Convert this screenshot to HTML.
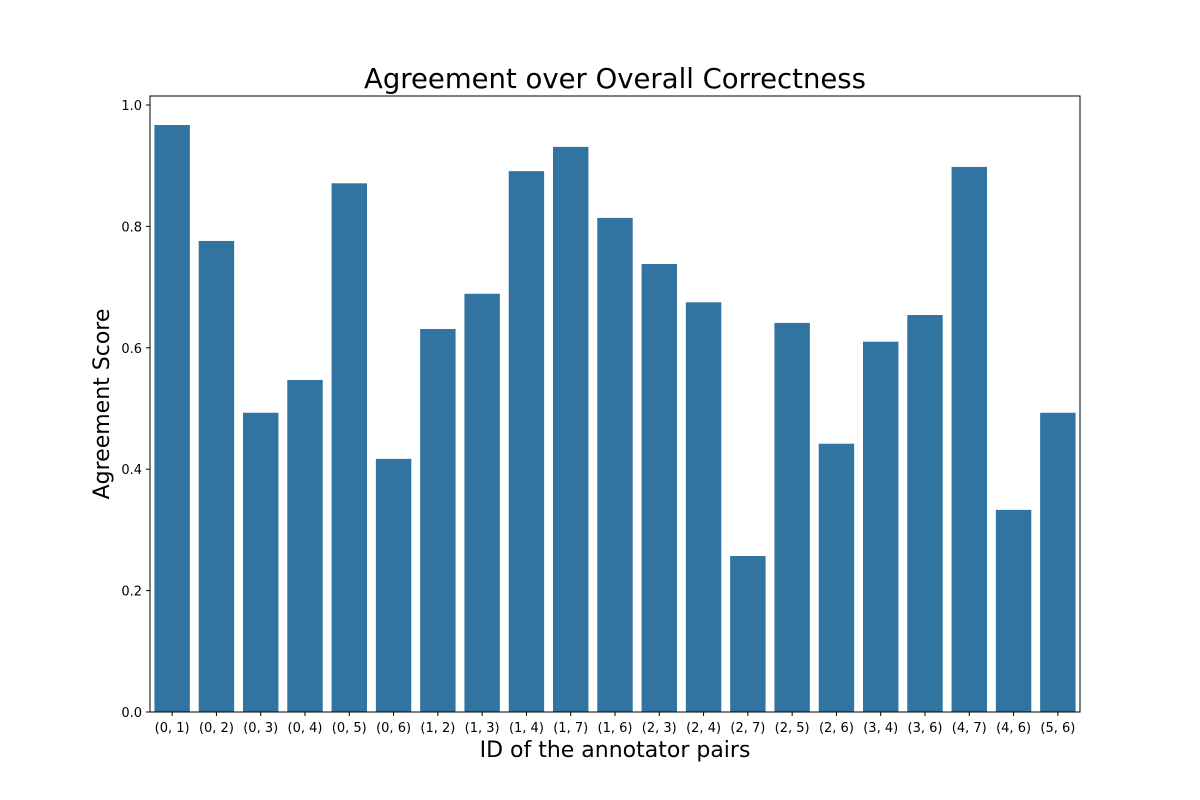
<!DOCTYPE html>
<html><head><meta charset="utf-8"><style>body{margin:0;background:#fff}svg{display:block;font-family:"DejaVu Sans","Liberation Sans",sans-serif}</style></head>
<body>
<svg id="chart" width="1200" height="800" xmlns="http://www.w3.org/2000/svg">
<text x="615" y="88" text-anchor="middle" font-size="27.5">Agreement over Overall Correctness</text>
<text transform="translate(109,404) rotate(-90)" text-anchor="middle" font-size="22">Agreement Score</text>
<text x="615" y="757" text-anchor="middle" font-size="22">ID of the annotator pairs</text>
<g id="bars"></g>
<g id="yticks"></g>
<g id="xticks"></g>
<rect x="150" y="96" width="930" height="616" fill="none" stroke="#000" stroke-width="1"/>
</svg>
<script>
const categories = ["(0, 1)","(0, 2)","(0, 3)","(0, 4)","(0, 5)","(0, 6)","(1, 2)","(1, 3)","(1, 4)","(1, 7)","(1, 6)","(2, 3)","(2, 4)","(2, 7)","(2, 5)","(2, 6)","(3, 4)","(3, 6)","(4, 7)","(4, 6)","(5, 6)"];
const values = [0.967,0.776,0.493,0.547,0.871,0.417,0.631,0.689,0.891,0.931,0.814,0.738,0.675,0.257,0.641,0.442,0.610,0.654,0.898,0.333,0.493];
const yTicks = [0,0.2,0.4,0.6,0.8,1.0];
const yTickLabels = ["0.0","0.2","0.4","0.6","0.8","1.0"];
const NS="http://www.w3.org/2000/svg";
const L=150,R=1080,B=712,PX=607;
const y=v=>B-v*PX;
const slot=(R-L)/categories.length;
const x=i=>L+slot*(i+0.5);
const bars=document.getElementById('bars'),xt=document.getElementById('xticks'),yt=document.getElementById('yticks');
function mk(t,a){const e=document.createElementNS(NS,t);for(const k in a)e.setAttribute(k,a[k]);return e;}
values.forEach((v,i)=>{
 const r=mk('rect',{x:x(i)-slot*0.4,y:y(v),width:slot*0.8,height:B-y(v),fill:'#3274a1'});
 
 
 bars.appendChild(r);
 const tk=mk('line',{x1:x(i),x2:x(i),y1:B,y2:B+4,stroke:'#000'});
 
 
 xt.appendChild(tk);
 const t=mk('text',{x:x(i),y:B+20,'text-anchor':'middle','font-size':'13'});
 t.textContent=categories[i];
 
 
 xt.appendChild(t);
});
yTicks.forEach((v,i)=>{
 const tk=mk('line',{x1:L-4,x2:L,y1:y(v),y2:y(v),stroke:'#000'});
 
 
 yt.appendChild(tk);
 const t=mk('text',{x:L-8,y:y(v)+5,'text-anchor':'end','font-size':'13'});
 t.textContent=yTickLabels[i];
 
 
 yt.appendChild(t);
});
</script>
</body></html>
